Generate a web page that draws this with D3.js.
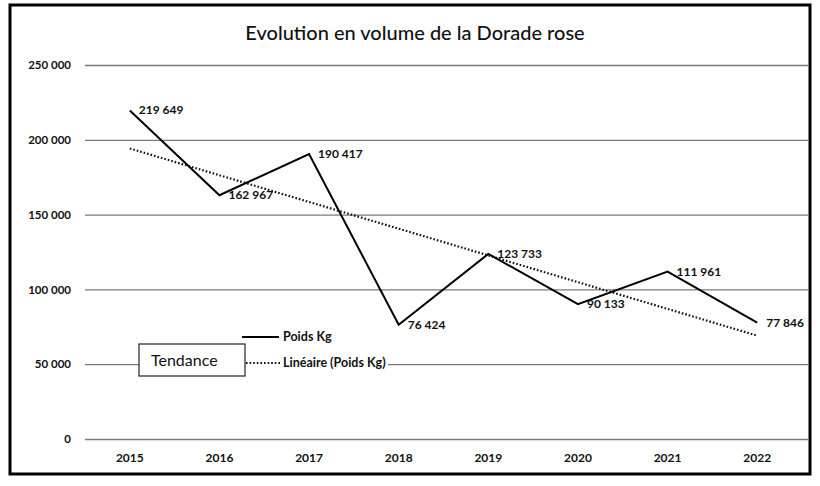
<!DOCTYPE html>
<html>
<head>
<meta charset="utf-8">
<script src="https://cdn.jsdelivr.net/npm/d3@7"></script>
<style>
  html, body { margin: 0; padding: 0; background: #fff; }
  svg { display: block; }
  text { font-family: Lato, "Open Sans", sans-serif; fill: #111; }
</style>
</head>
<body>
<svg id="chart" width="820" height="486"></svg>
<script>
const title = "Evolution en volume de la Dorade rose";
const years = ["2015", "2016", "2017", "2018", "2019", "2020", "2021", "2022"];
const poidsKg = [219649, 162967, 190417, 76424, 123733, 90133, 111961, 77846];
const yTicks = [0, 50000, 100000, 150000, 200000, 250000];
const seriesName = "Poids Kg";
const trendName = "Linéaire (Poids Kg)";
const boxLabel = "Tendance";

const svg = d3.select("#chart");
const plot = { left: 85, right: 808, catRight: 802, top: 65, bottom: 439 };

const fmt = v => d3.format(",")(v).replace(/,/g, " ");

// outer frame
svg.append("rect")
  .attr("x", 10).attr("y", 5).attr("width", 800).attr("height", 469)
  .attr("fill", "#fff").attr("stroke", "#000").attr("stroke-width", 3);

const x = d3.scaleBand().domain(years).range([plot.left, plot.catRight]).padding(0);
const y = d3.scaleLinear().domain([0, 250000]).range([plot.bottom, plot.top]);
const cx = d => x(d) + x.bandwidth() / 2;

// title
svg.append("text")
  .attr("x", 415).attr("y", 40)
  .attr("text-anchor", "middle")
  .style("font-size", "20px").style("font-weight", "500")
  .text(title);

// gridlines + y axis labels
const yAxis = d3.axisLeft(y).tickValues(yTicks).tickSize(-(plot.right - plot.left)).tickFormat(fmt).tickPadding(14);
const gy = svg.append("g").attr("transform", `translate(${plot.left},0)`).call(yAxis);
gy.select(".domain").remove();
gy.selectAll(".tick line").attr("stroke", "#7a7a7a").attr("stroke-width", 1.3);
gy.selectAll(".tick text")
  .style("font-size", "11.5px").style("font-weight", "bold")
  .style("font-family", "Lato, sans-serif").attr("fill", "#111");

// x axis labels
const xAxis = d3.axisBottom(x).tickSize(0).tickPadding(14);
const gx = svg.append("g").attr("transform", `translate(0,${plot.bottom})`).call(xAxis);
gx.select(".domain").remove();
gx.selectAll(".tick text")
  .style("font-size", "12px").style("font-weight", "bold")
  .style("font-family", "Lato, sans-serif").attr("fill", "#111");

// trend (linear regression of the series, as Excel computes it)
const n = poidsKg.length;
const xs = d3.range(n);
const mx = d3.mean(xs), my = d3.mean(poidsKg);
const slope = d3.sum(xs, i => (i - mx) * (poidsKg[i] - my)) / d3.sum(xs, i => (i - mx) ** 2);
const icpt = my - slope * mx;
const trend = xs.map(i => icpt + slope * i);

// legend background (covers gridline)
svg.append("rect")
  .attr("x", 139).attr("y", 326).attr("width", 249).attr("height", 50)
  .attr("fill", "#fff");

const line = d3.line().x((d, i) => cx(years[i])).y(d => y(d));

svg.append("path")
  .datum(trend)
  .attr("d", line)
  .attr("fill", "none").attr("stroke", "#111")
  .attr("stroke-width", 2.2).attr("stroke-dasharray", "1.6,2");

svg.append("path")
  .datum(poidsKg)
  .attr("d", line)
  .attr("fill", "none").attr("stroke", "#000")
  .attr("stroke-width", 2)
  .attr("stroke-linejoin", "miter");

// data labels
svg.append("g").selectAll("text")
  .data(poidsKg)
  .join("text")
  .attr("x", (d, i) => cx(years[i]) + 9)
  .attr("y", d => y(d) + 4)
  .style("font-size", "12px").style("font-weight", "bold")
  .text(d => fmt(d));

// legend box "Tendance"
svg.append("rect")
  .attr("x", 139).attr("y", 344).attr("width", 106).attr("height", 32)
  .attr("fill", "#fff").attr("stroke", "#333").attr("stroke-width", 1.3);
svg.append("text")
  .attr("x", 151).attr("y", 366)
  .style("font-size", "16px")
  .text(boxLabel);

// legend entries
svg.append("line")
  .attr("x1", 242).attr("x2", 279).attr("y1", 337).attr("y2", 337)
  .attr("stroke", "#000").attr("stroke-width", 2);
svg.append("text")
  .attr("x", 283).attr("y", 341)
  .style("font-size", "12.5px").style("font-weight", "bold")
  .text(seriesName);

svg.append("line")
  .attr("x1", 246).attr("x2", 282).attr("y1", 363).attr("y2", 363)
  .attr("stroke", "#111").attr("stroke-width", 2).attr("stroke-dasharray", "1.6,2");
svg.append("text")
  .attr("x", 283).attr("y", 367)
  .style("font-size", "12.5px").style("font-weight", "bold")
  .text(trendName);
</script>
</body>
</html>
